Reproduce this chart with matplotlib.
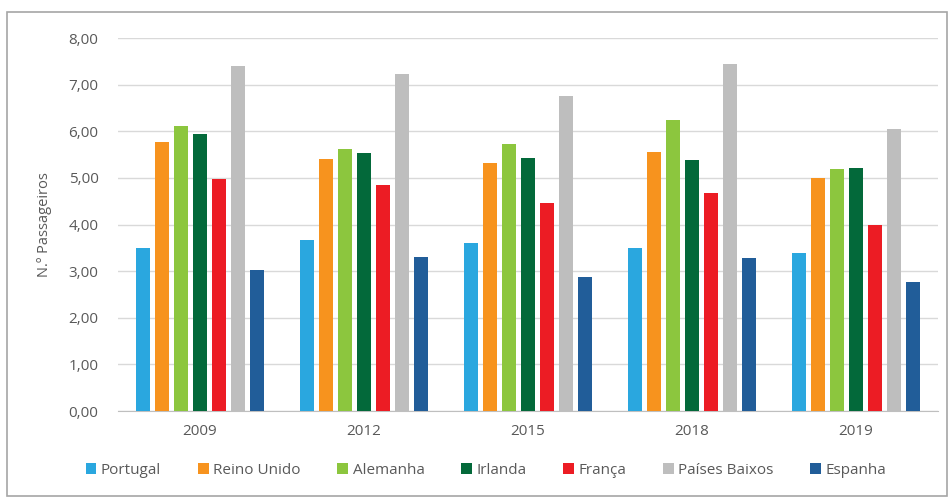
import matplotlib
matplotlib.use("Agg")
import matplotlib.pyplot as plt
from matplotlib.patches import Rectangle
import numpy as np

years = ["2009", "2012", "2015", "2018", "2019"]
countries = ["Portugal", "Reino Unido", "Alemanha", "Irlanda", "França", "Países Baixos", "Espanha"]
colors = ["#2AA7DF", "#F7931E", "#8CC63E", "#03693A", "#EC1C24", "#BEBEBE", "#215D99"]

portugal = [3.50, 3.67, 3.60, 3.50, 3.39]
reino_unido = [5.77, 5.41, 5.32, 5.56, 5.00]
alemanha = [6.12, 5.62, 5.73, 6.24, 5.19]
irlanda = [5.94, 5.54, 5.43, 5.39, 5.21]
franca = [4.98, 4.85, 4.46, 4.68, 3.99]
paises_baixos = [7.40, 7.23, 6.76, 7.44, 6.05]
espanha = [3.03, 3.30, 2.88, 3.28, 2.77]
series = [portugal, reino_unido, alemanha, irlanda, franca, paises_baixos, espanha]

yticks = [0, 1, 2, 3, 4, 5, 6, 7, 8]

plt.rcParams["font.family"] = ["Open Sans", "DejaVu Sans"]
text_color = "#595959"

fig = plt.figure(figsize=(9.5, 4.98), dpi=100)
fig.patches.append(Rectangle((7 / 950, 2 / 498), 940 / 950, 484 / 498,
                             transform=fig.transFigure, fill=False,
                             edgecolor="#A6A6A6", linewidth=1.2))

ax = fig.add_axes([118 / 950, 1 - 411 / 498, 820 / 950, 373 / 498])
x = np.arange(len(years))
step = 0.116
width = 0.086
for i, (name, vals, c) in enumerate(zip(countries, series, colors)):
    ax.bar(x + (i - 3) * step, vals, width=width, color=c, label=name, zorder=3)

ax.set_xlim(-0.5, len(years) - 0.5)
ax.set_ylim(0, 8)
ax.set_yticks(yticks)
ax.set_yticklabels([f"{v:.2f}".replace(".", ",") for v in yticks])
ax.set_xticks(x)
ax.set_xticklabels(years)
ax.grid(axis="y", color="#D9D9D9", linewidth=1, zorder=0)
for s in ["top", "right", "left"]:
    ax.spines[s].set_visible(False)
ax.spines["bottom"].set_color("#BFBFBF")
ax.tick_params(axis="both", length=0, colors=text_color, labelsize=11)
ax.tick_params(axis="y", pad=14)
ax.tick_params(axis="x", pad=9)
ax.set_ylabel("N.º Passageiros", color=text_color, fontsize=10.5, labelpad=12)

fig.legend(loc="center", bbox_to_anchor=(486 / 950, 1 - 470 / 498), ncol=7, frameon=False,
           fontsize=11, handlelength=0.7, handleheight=0.7, handletextpad=0.3,
           columnspacing=2.4, labelcolor=text_color)

fig.savefig("out.png", dpi=100)
